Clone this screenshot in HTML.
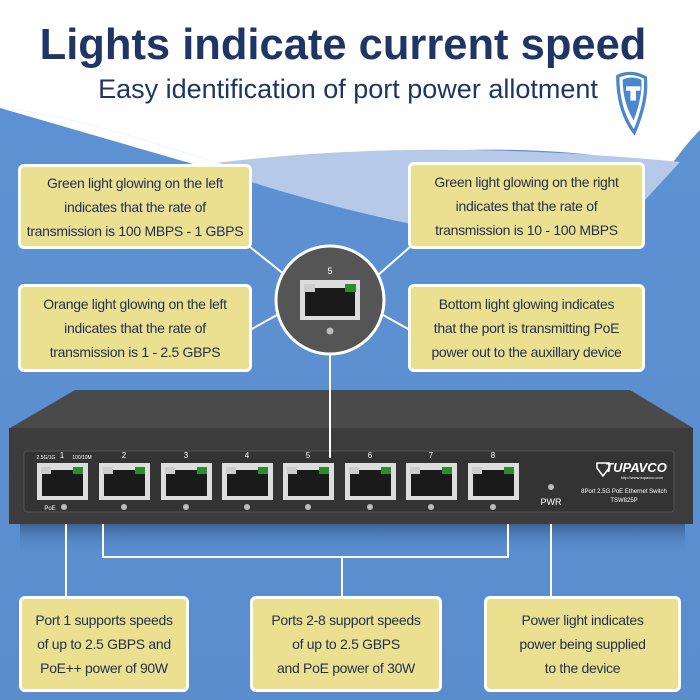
<!DOCTYPE html>
<html><head><meta charset="utf-8"><style>
body{margin:0;width:700px;height:700px;overflow:hidden;font-family:"Liberation Sans",sans-serif;position:relative;background:#5a8ecf}
.t{position:absolute;left:0;width:700px;text-align:center;color:#1f3566}
.box{position:absolute;background:#ebdf90;border:3px solid #fff;border-radius:6px;box-sizing:border-box;color:#1f2f55;font-size:14px;letter-spacing:-0.3px;line-height:24px;text-align:center;display:flex;align-items:center;justify-content:center;white-space:nowrap}
</style></head><body>
<svg width="700" height="700" style="position:absolute;left:0;top:0">
<defs><linearGradient id="bg" x1="0" y1="0" x2="0" y2="1"><stop offset="0" stop-color="#5d92d4"/><stop offset="1" stop-color="#5a8dcd"/></linearGradient>
<linearGradient id="sh" x1="0" y1="0" x2="0" y2="1"><stop offset="0" stop-color="#2d4f80" stop-opacity="0.7"/><stop offset="1" stop-color="#5a8dcd" stop-opacity="0"/></linearGradient></defs>
<rect width="700" height="700" fill="url(#bg)"/>
<path d="M0,0H700V130C680,150 665,175 645,200L640,162C520,140 380,150 250,172C170,150 80,115 0,108Z" fill="#fff"/>
<path d="M200,165C300,152 450,140 680,162L645,200C620,215 600,225 590,232L500,240C400,225 300,200 200,165Z" fill="#b7c9e9"/>
<path d="M0,108C80,115 170,150 250,172L200,166Z" fill="#fff"/>
<rect x="20" y="524" width="665" height="30" fill="url(#sh)"/>
<!-- logo -->
<g transform="translate(615,72) scale(0.55)">
<path d="M5,8 Q28,-4 55,10 Q60,50 35,110 Q5,70 5,8Z" fill="#fff" stroke="#4c86cc" stroke-width="6"/>
<path d="M14,14 Q30,6 48,14 Q50,45 34,88 Q14,55 14,14Z" fill="#4c86cc"/>
<rect x="20" y="26" width="26" height="8" fill="#fff"/><rect x="28" y="30" width="10" height="22" fill="#fff"/>
</g>
<!-- connectors -->
<g stroke="#fff" stroke-width="2" fill="none">
<line x1="250" y1="247" x2="285" y2="275"/><line x1="410" y1="247" x2="378" y2="275"/>
<line x1="250" y1="330" x2="277" y2="315"/><line x1="410" y1="330" x2="383" y2="315"/>
<line x1="330" y1="353" x2="330" y2="460"/>
<line x1="66" y1="515" x2="66" y2="598"/><line x1="551" y1="515" x2="551" y2="598"/>
<path d="M103,515V557H508V515"/><line x1="342" y1="557" x2="342" y2="598"/>
</g>
<!-- switch -->
<path d="M75,390H630L693,428H10Z" fill="#4a4a4a"/>
<rect x="9" y="428" width="684" height="96" fill="#3c3c3c"/>
<rect x="24" y="451" width="650" height="61" rx="3" fill="#333" stroke="#555"/>
<circle cx="330" cy="300" r="54" fill="#555" stroke="#fff" stroke-width="3"/>
<g stroke="#fff" stroke-width="2"><line x1="330" y1="356" x2="330" y2="458"/></g>
</svg>
<svg width="700" height="700" style="position:absolute;left:0;top:0">
<g font-family="Liberation Sans" text-anchor="middle">
<g transform="translate(37,463)"><rect width="51" height="37" fill="#ddd"/><rect x="5" y="7" width="41" height="26" fill="#1a1a1a"/><rect x="4" y="4" width="10" height="7" fill="#ccc"/><rect x="36" y="4" width="10" height="7" fill="#2e8a2e"/><circle cx="27" cy="44" r="3" fill="#bbb"/><text x="25" y="-5" font-size="8" fill="#fff">1</text></g>
<g transform="translate(99,463)"><rect width="51" height="37" fill="#ddd"/><rect x="5" y="7" width="41" height="26" fill="#1a1a1a"/><rect x="4" y="4" width="10" height="7" fill="#ccc"/><rect x="36" y="4" width="10" height="7" fill="#2e8a2e"/><circle cx="25" cy="44" r="3" fill="#bbb"/><text x="25" y="-5" font-size="8" fill="#fff">2</text></g>
<g transform="translate(161,463)"><rect width="51" height="37" fill="#ddd"/><rect x="5" y="7" width="41" height="26" fill="#1a1a1a"/><rect x="4" y="4" width="10" height="7" fill="#ccc"/><rect x="36" y="4" width="10" height="7" fill="#2e8a2e"/><circle cx="25" cy="44" r="3" fill="#bbb"/><text x="25" y="-5" font-size="8" fill="#fff">3</text></g>
<g transform="translate(222,463)"><rect width="51" height="37" fill="#ddd"/><rect x="5" y="7" width="41" height="26" fill="#1a1a1a"/><rect x="4" y="4" width="10" height="7" fill="#ccc"/><rect x="36" y="4" width="10" height="7" fill="#2e8a2e"/><circle cx="25" cy="44" r="3" fill="#bbb"/><text x="25" y="-5" font-size="8" fill="#fff">4</text></g>
<g transform="translate(283,463)"><rect width="51" height="37" fill="#ddd"/><rect x="5" y="7" width="41" height="26" fill="#1a1a1a"/><rect x="4" y="4" width="10" height="7" fill="#ccc"/><rect x="36" y="4" width="10" height="7" fill="#2e8a2e"/><circle cx="25" cy="44" r="3" fill="#bbb"/><text x="25" y="-5" font-size="8" fill="#fff">5</text></g>
<g transform="translate(345,463)"><rect width="51" height="37" fill="#ddd"/><rect x="5" y="7" width="41" height="26" fill="#1a1a1a"/><rect x="4" y="4" width="10" height="7" fill="#ccc"/><rect x="36" y="4" width="10" height="7" fill="#2e8a2e"/><circle cx="25" cy="44" r="3" fill="#bbb"/><text x="25" y="-5" font-size="8" fill="#fff">6</text></g>
<g transform="translate(406,463)"><rect width="51" height="37" fill="#ddd"/><rect x="5" y="7" width="41" height="26" fill="#1a1a1a"/><rect x="4" y="4" width="10" height="7" fill="#ccc"/><rect x="36" y="4" width="10" height="7" fill="#2e8a2e"/><circle cx="25" cy="44" r="3" fill="#bbb"/><text x="25" y="-5" font-size="8" fill="#fff">7</text></g>
<g transform="translate(468,463)"><rect width="51" height="37" fill="#ddd"/><rect x="5" y="7" width="41" height="26" fill="#1a1a1a"/><rect x="4" y="4" width="10" height="7" fill="#ccc"/><rect x="36" y="4" width="10" height="7" fill="#2e8a2e"/><circle cx="25" cy="44" r="3" fill="#bbb"/><text x="25" y="-5" font-size="8" fill="#fff">8</text></g>
<g transform="translate(300,280)"><rect width="60" height="40" fill="#ddd"/><rect x="5" y="8" width="50" height="28" fill="#1a1a1a"/><rect x="4" y="4" width="11" height="8" fill="#ccc"/><rect x="45" y="4" width="11" height="8" fill="#2e8a2e"/><circle cx="30" cy="51" r="3.5" fill="#bbb"/><text x="30" y="-6" font-size="9" fill="#fff">5</text></g>
<text x="46" y="459" font-size="5" fill="#fff">2.5G/1G</text><text x="82" y="459" font-size="5" fill="#fff">100/10M</text>
<text x="50" y="510" font-size="6" fill="#fff">PoE</text>
<circle cx="551" cy="487" r="3" fill="#bbb"/><text x="551" y="505" font-size="9" fill="#fff">PWR</text>
<text x="624" y="493" font-size="6" fill="#fff">8Port 2.5G PoE Ethernet Switch</text>
<text x="624" y="502" font-size="6" fill="#fff">TSW825P</text>
<text x="636" y="472" font-size="13" font-weight="bold" font-style="italic" fill="#fff">TUPAVCO</text>
<text x="642" y="479" font-size="4" fill="#fff">http://www.tupavco.com</text>
<path d="M597,463h12v5l-6,8l-6,-8z" fill="none" stroke="#fff" stroke-width="1.5"/>
</g>
</svg>
<div class="t" style="top:17px;font-size:43.5px;font-weight:bold;line-height:56px;left:-7px">Lights indicate current speed</div>
<div class="t" style="top:71px;font-size:27px;line-height:36px;left:-2px">Easy identification of port power allotment</div>
<div class="box" style="left:18px;top:164px;width:234px;height:85px">Green light glowing on the left<br>indicates that the rate of<br>transmission is 100 MBPS - 1 GBPS</div>
<div class="box" style="left:408px;top:162px;width:237px;height:87px">Green light glowing on the right<br>indicates that the rate of<br>transmission is 10 - 100 MBPS</div>
<div class="box" style="left:18px;top:284px;width:234px;height:88px">Orange light glowing on the left<br>indicates that the rate of<br>transmission is 1 - 2.5 GBPS</div>
<div class="box" style="left:408px;top:284px;width:237px;height:88px">Bottom light glowing indicates<br>that the port is transmitting PoE<br>power out to the auxillary device</div>
<div class="box" style="left:19px;top:596px;width:170px;height:96px">Port 1 supports speeds<br>of up to 2.5 GBPS and<br>PoE++ power of 90W</div>
<div class="box" style="left:250px;top:596px;width:192px;height:96px">Ports 2-8 support speeds<br>of up to 2.5 GBPS<br>and PoE power of 30W</div>
<div class="box" style="left:484px;top:596px;width:197px;height:96px">Power light indicates<br>power being supplied<br>to the device</div>
</body></html>
